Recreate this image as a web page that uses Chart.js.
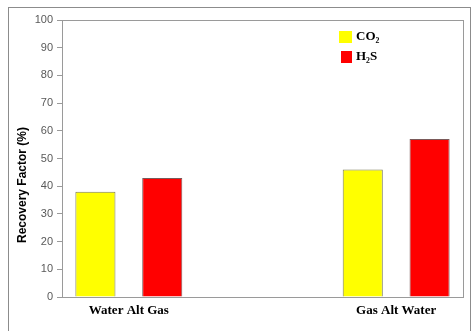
<!DOCTYPE html>
<html>
<head>
<meta charset="utf-8">
<script src="https://cdn.jsdelivr.net/npm/chart.js@4"></script>
<style>
html,body{margin:0;padding:0;background:#fff;}
#wrap{width:475px;height:331px;position:relative;}
</style>
</head>
<body>
<div id="wrap"><canvas id="c" width="475" height="331"></canvas></div>
<script>
const categories = ["Water Alt Gas", "", "Gas Alt Water"];
const seriesNames = ["CO\u2082", "H\u2082S"];
const co2Values = [38, null, 46];
const h2sValues = [43, null, 57];
const yTicks = [0, 10, 20, 30, 40, 50, 60, 70, 80, 90, 100];
const yTitle = "Recovery Factor (%)";

const frame = {
  id: 'frame',
  beforeDraw(chart) {
    const ctx = chart.ctx;
    ctx.save();
    ctx.strokeStyle = '#8c8c8c';
    ctx.lineWidth = 1;
    ctx.strokeRect(8.5, 7.5, 462, 340);
    ctx.restore();
  },
  afterDraw(chart) {
    const ctx = chart.ctx, a = chart.chartArea;
    ctx.save();
    ctx.strokeStyle = '#9a9a9a';
    ctx.lineWidth = 1;
    ctx.strokeRect(Math.round(a.left) + 0.5, Math.round(a.top) + 0.5, Math.round(a.right - a.left), Math.round(a.bottom - a.top));
    // y axis title
    ctx.save();
    ctx.translate(23, 185);
    ctx.rotate(-Math.PI / 2);
    ctx.font = 'bold 12px "Liberation Sans"';
    ctx.fillStyle = '#000';
    ctx.textAlign = 'center';
    ctx.textBaseline = 'middle';
    ctx.fillText(yTitle, 0, 0);
    ctx.restore();
    // custom legend
    const items = chart.data.datasets;
    const x0 = 339, ys = [31, 51];
    ctx.font = 'bold 13px "Liberation Serif"';
    ctx.textBaseline = 'middle';
    items.forEach((ds, i) => {
      ctx.fillStyle = ds.backgroundColor;
      ctx.fillRect(x0 + (i ? 2 : 0), ys[i], (i ? 11 : 13), 12);
      ctx.fillStyle = '#000';
      ctx.fillText(ds.label, x0 + 17, ys[i] + 6);
    });
    ctx.restore();
  }
};

new Chart(document.getElementById('c'), {
  type: 'bar',
  data: {
    labels: categories,
    datasets: [
      { label: seriesNames[0], data: co2Values, backgroundColor: '#FFFF00', borderColor: '#7a7a5a', borderWidth: 1 },
      { label: seriesNames[1], data: h2sValues, backgroundColor: '#FF0000', borderColor: '#7a5a5a', borderWidth: 1 }
    ]
  },
  options: {
    responsive: false,
    animation: false,
    devicePixelRatio: 1,
    layout: { padding: { left: 10, right: 12, top: 20, bottom: 0 } },
    plugins: { legend: { display: false }, tooltip: { enabled: false } },
    datasets: { bar: { categoryPercentage: 1.0, barPercentage: 0.6, skipNull: false } },
    scales: {
      x: {
        grid: { display: false, drawTicks: false },
        border: { display: true, color: '#9a9a9a' },
        ticks: { color: '#000', font: { family: '"Liberation Serif"', size: 13, weight: 'bold' }, padding: 6, maxRotation: 0, autoSkip: false },
        afterFit(s) { s.height = 34; }
      },
      y: {
        min: 0, max: 100,
        afterBuildTicks(s) { s.ticks = yTicks.map(v => ({ value: v })); },
        grid: { drawOnChartArea: false, drawTicks: true, tickLength: 5, color: '#9a9a9a' },
        border: { display: true, color: '#9a9a9a' },
        ticks: { color: '#595959', font: { family: '"Liberation Sans"', size: 11 }, padding: 4 },
        title: { display: false },
        afterFit(s) { s.width = 52; }
      }
    }
  },
  plugins: [frame]
});
</script>
</body>
</html>
